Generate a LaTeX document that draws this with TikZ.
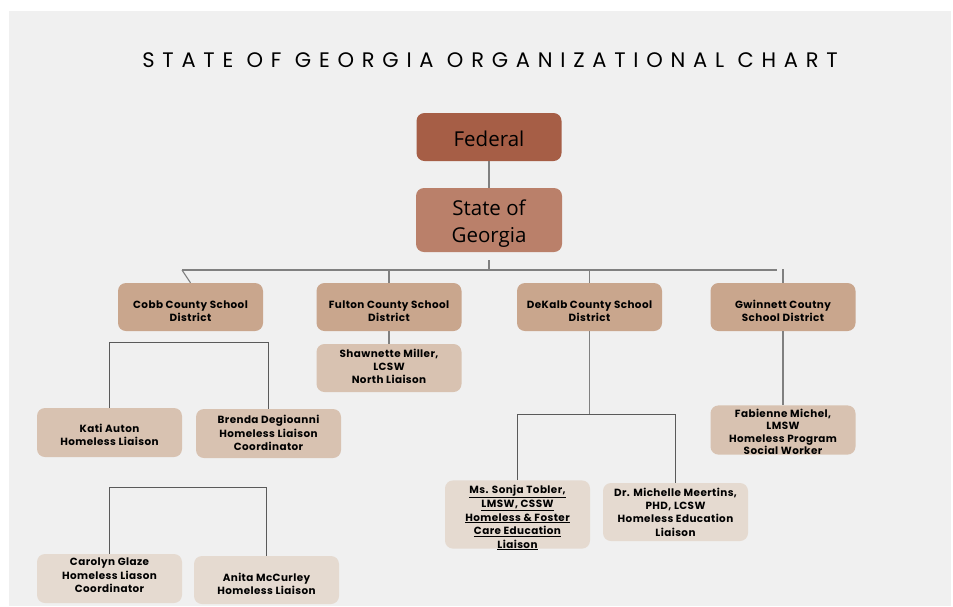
\documentclass[tikz,border=0pt]{standalone}
\usepackage{fontspec}
\setmainfont{Poppins}
\newfontfamily\titlefont[LetterSpace=37]{Poppins}
\newfontfamily\headfont{Open Sans}
\newfontfamily\boxfont[LetterSpace=4]{Poppins}

% centred block of lines, moved up (positive) or down (negative) inside its box
\newcommand\shiftlines[2]{\raisebox{#1}[\height][\depth]{\begin{tabular}{@{}c@{}}#2\end{tabular}}}

\definecolor{pagegray}{HTML}{F0F0F0}
\definecolor{fedcol}{HTML}{A65E46}
\definecolor{statecol}{HTML}{BA806A}
\definecolor{distcol}{HTML}{C9A68D}
\definecolor{staffcol}{HTML}{D8C2B1}
\definecolor{stafflight}{HTML}{E5DAD0}
\definecolor{linkcol}{HTML}{808080}
\definecolor{bracketcol}{HTML}{5A5A5A}

\begin{document}
\begin{tikzpicture}[x=1pt,y=-1pt,
  card/.style={rounded corners=8pt, align=center, inner sep=0pt, text=black,
    minimum width=145pt, minimum height=48pt},
  top/.style={card, font=\headfont\fontsize{20.5}{27}\selectfont},
  district/.style={card, fill=distcol, font=\boxfont\bfseries\fontsize{10.4}{13.3}\selectfont},
  staff/.style={card, fill=staffcol, font=\boxfont\bfseries\fontsize{10.4}{13.3}\selectfont},
  staffl/.style={card, fill=stafflight, font=\boxfont\bfseries\fontsize{10.4}{13.3}\selectfont},
  link/.style={draw=linkcol, line width=1.1pt},
  bracket/.style={draw=bracketcol, line width=0.9pt}]

\useasboundingbox (0,0) rectangle (953,606);
\fill[white] (0,0) rectangle (953,606);
\fill[pagegray] (9,11) rectangle (951,606);

% heading
\node (title) at (490,60) {\titlefont\fontsize{21}{25}\selectfont STATE OF GEORGIA ORGANIZATIONAL CHART};

% top levels
\node[top, fill=fedcol] (fed) at (489,137) {\shiftlines{-4pt}{Federal}};
\node[top, fill=statecol, minimum width=146pt, minimum height=64pt] (state) at (489,220) {\shiftlines{-4pt}{State of\\Georgia}};

% school districts
\node[district] (cobb) at (190.5,307) {\shiftlines{-5pt}{Cobb County School\\District}};
\node[district] (fulton) at (389,307) {\shiftlines{-5pt}{Fulton County School\\District}};
\node[district] (dekalb) at (589.5,307) {\shiftlines{-5pt}{DeKalb County School\\District}};
\node[district] (gwin) at (783,307) {\shiftlines{-5pt}{Gwinnett Coutny\\School District}};

% staff
\node[staff] (shaw) at (389,368) {\shiftlines{0pt}{Shawnette Miller,\\LCSW\\North Liaison}};
\node[staff, minimum height=49pt] (kati) at (109.5,432.5) {\shiftlines{-4pt}{Kati Auton\\Homeless Liaison}};
\node[staff, minimum height=49pt] (brenda) at (268.5,433.5) {\shiftlines{-1pt}{Brenda Degioanni\\Homeless Liaison\\Coordinator}};
\node[staffl, minimum height=49pt] (carolyn) at (109.5,578.5) {\shiftlines{2pt}{Carolyn Glaze\\Homeless Liason\\Coordinator}};
\node[staffl] (anita) at (266.5,580) {\shiftlines{-5pt}{Anita McCurley\\Homeless Liaison}};
\node[staffl, minimum height=67pt, font=\boxfont\bfseries\fontsize{10.4}{13.5}\selectfont] (sonja) at (517.5,514.5) {\shiftlines{-3.5pt}{\underline{Ms. Sonja Tobler,}\\\underline{LMSW, CSSW}\\\underline{Homeless \& Foster}\\\underline{Care Education}\\\underline{Liaison}}};
\node[staffl, minimum height=58pt] (michelle) at (675.5,512) {\shiftlines{-1.5pt}{Dr. Michelle Meertins,\\PHD, LCSW\\Homeless Education\\Liaison}};
\node[staff, font=\boxfont\bfseries\fontsize{10.4}{12.3}\selectfont] (fab) at (783,430) {\shiftlines{-3.5pt}{Fabienne Michel,\\LMSW\\Homeless Program\\Social Worker}};

% junction points
\coordinate (statedrop) at (489,260);
\coordinate (barL) at (182,270);
\coordinate (barR) at (777,270);
\coordinate (cobbtop) at (188,342);
\coordinate (cobbmid) at (188,487);
\coordinate (dkbar) at (596,414);

% connectors
\draw[link] (fed) -- (state);
\draw[link] (statedrop) -- (statedrop |- barL);
\draw[link] (barL) -- (barR);
\draw[link] (barL) -- (cobb.north);
\draw[link] (fulton.north |- barL) -- (fulton.north);
\draw[link] (dekalb.north |- barL) -- (dekalb.north);
\draw[link] ([yshift=1pt]gwin.north |- barL) -- (gwin.north);
\draw[link] (fulton) -- (shaw);
\draw[link] (gwin) -- (fab);
\draw[link] (dekalb.south) -- (dekalb.south |- dkbar);

\draw[bracket] (kati.north) -- (kati.north |- cobbtop) -| (brenda.north);
\draw[bracket] (carolyn.north) -- (carolyn.north |- cobbmid) -| (anita.north);
\draw[bracket] (sonja.north) -- (sonja.north |- dkbar) -| (michelle.north);
\end{tikzpicture}
\end{document}
